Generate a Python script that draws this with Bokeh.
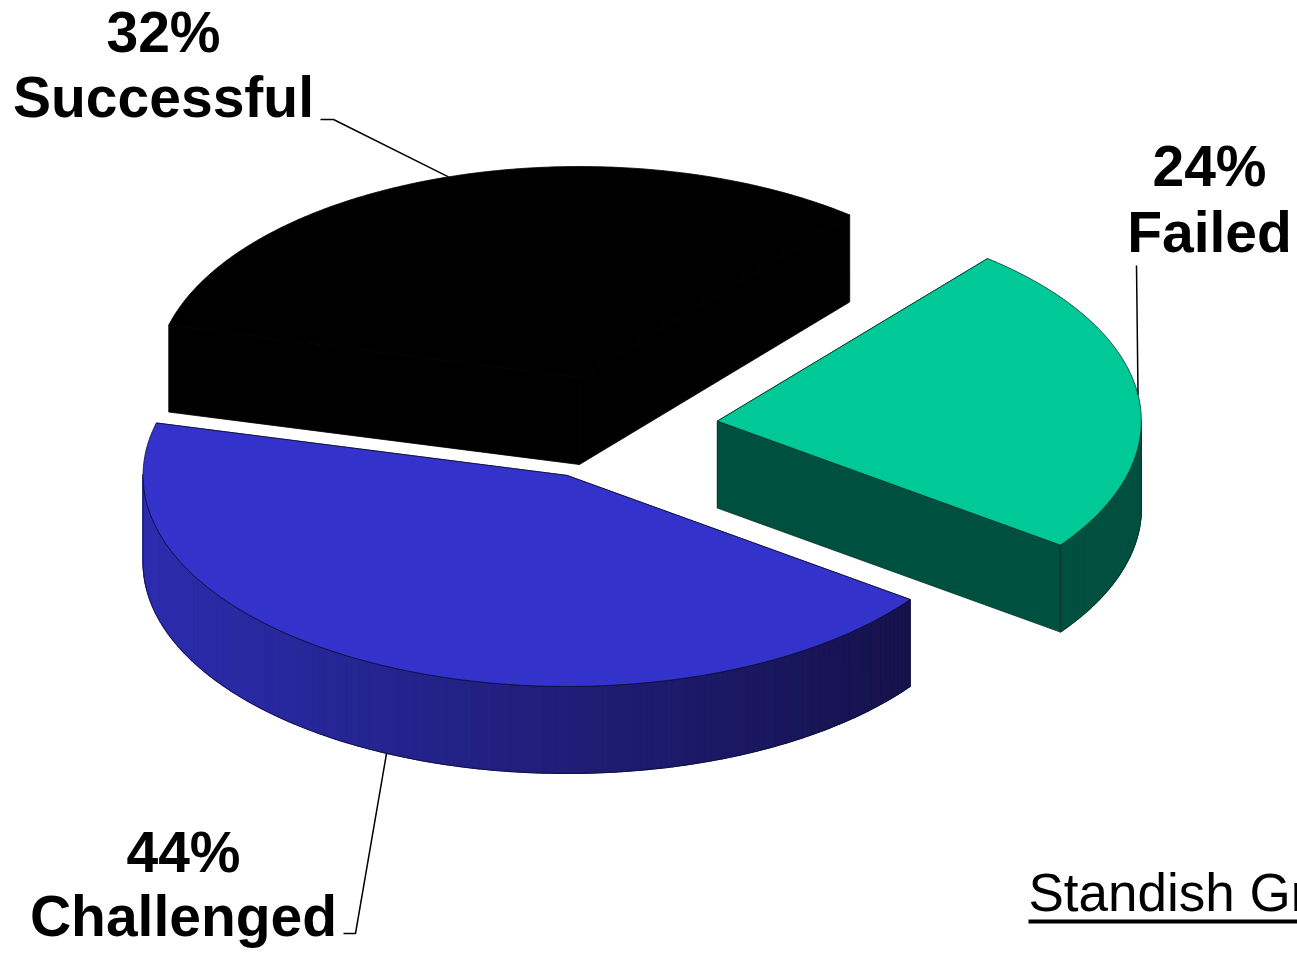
import numpy as np
from bokeh.plotting import figure
from bokeh.models import Range1d, ColumnDataSource
from bokeh.core.properties import value
from bokeh.embed import file_html
from bokeh.resources import INLINE

# ---------------- data ----------------
categories = ["Successful", "Failed", "Challenged"]
percent = [32, 24, 44]
source_note = "Standish Group"

# ---------------- style ----------------
top_colors = ["#000000", "#00c896", "#3333cc"]
side_left = ["#000000", "#005040", "#2c2cae"]
side_right = ["#000000", "#005040", "#15124c"]
edge_colors = [None, "#00342a", "#0e0e3a"]

CX, CY = 611.7, 427.2          # pie centre (screen px)
A, B, H = 424.0, 211.0, 87.0   # ellipse semi-axes and thickness
EXPLODE = 0.25
START = 165.6                  # degrees, slices go clockwise

label_x = [163, 1209, 183]
pct_base = [54, 188, 874]
name_base = [119, 254, 938]
leader_tail = [[(333, 119), (320, 119)], [(1136, 265)], [(355, 933), (343, 933)]]
FONT = "Liberation Sans"
LBL_SIZE = 57
NOTE_SIZE = 53
BASE_SHIFT = 0.4   # text anchor correction (fraction of font size)

W, HGT = 1297, 953
p = figure(width=W, height=HGT, x_range=Range1d(0, W), y_range=Range1d(HGT, 0),
           output_backend="svg", toolbar_location=None, min_border=0,
           x_axis_location=None, y_axis_location=None)
p.grid.visible = False
p.outline_line_color = None
p.background_fill_color = "white"
p.border_fill_color = "white"


def pt(cx, cy, th, dz=0.0):
    r = np.radians(th)
    return cx + A * np.cos(r), cy - B * np.sin(r) + dz


def hex2rgb(h):
    h = h.lstrip("#")
    return np.array([int(h[i:i + 2], 16) for i in (0, 2, 4)], dtype=float)


def rgb2hex(c):
    return "#%02x%02x%02x" % tuple(int(round(v)) for v in c)


cum = 0.0
anchors = []
for i, v in enumerate(percent):
    t0 = START - 3.6 * cum
    t1 = t0 - 3.6 * v
    cum += v
    mid = (t0 + t1) / 2
    rm = np.radians(mid)
    cx = CX + EXPLODE * A * np.cos(rm)
    cy = CY - EXPLODE * B * np.sin(rm)

    faces_back, faces_front = [], []
    for t, nrm in ((t0, t0 + 90), (t1, t1 - 90)):
        xa, ya = pt(cx, cy, t)
        face = ([cx, xa, xa, cx], [cy, ya, ya + H, cy + H])
        if np.sin(np.radians(nrm)) < 0:
            faces_front.append(face)
        else:
            faces_back.append(face)

    ec = edge_colors[i]
    lc = ec if ec else top_colors[i]
    for xs, ys in faces_back:
        p.patch(xs, ys, fill_color=side_left[i], line_color=lc, line_width=0.8)

    # visible front rim, drawn as thin strips to give a horizontal gradient
    angs = np.linspace(t1, t0, 181)
    cl, cr = hex2rgb(side_left[i]), hex2rgb(side_right[i])
    vis = []
    sx, sy, sc = [], [], []
    for k in range(len(angs) - 1):
        am = (angs[k] + angs[k + 1]) / 2
        if np.sin(np.radians(am)) >= 0:
            continue
        vis.append(k)
        xa, ya = pt(cx, cy, angs[k])
        xb, yb = pt(cx, cy, angs[k + 1])
        sx.append([xa, xb, xb, xa])
        sy.append([ya, yb, yb + H, ya + H])
        sc.append((xa + xb) / 2)
    if vis:
        xmn, xmx = min(sc), max(sc)
        cols = [rgb2hex(cl + (cr - cl) * ((x - xmn) / (xmx - xmn) if xmx > xmn else 0)) for x in sc]
        src = ColumnDataSource(dict(xs=sx, ys=sy, c=cols))
        p.patches("xs", "ys", source=src, fill_color="c", line_color="c", line_width=1.2)
        ra, rb = angs[vis[0]], angs[vis[-1] + 1]
        arc = np.linspace(ra, rb, 100)
        ox, oy = pt(cx, cy, arc)
        oxx = list(ox) + list(ox[::-1]) + [ox[0]]
        oyy = list(oy) + list((oy + H)[::-1]) + [oy[0]]
        if ec:
            p.line(oxx, oyy, line_color=ec, line_width=0.8)

    for xs, ys in faces_front:
        p.patch(xs, ys, fill_color=side_left[i] if i != 2 else side_right[i],
                line_color=lc, line_width=0.8)

    arc = np.linspace(t0, t1, 200)
    ax, ay = pt(cx, cy, arc)
    p.patch([cx] + list(ax), [cy] + list(ay), fill_color=top_colors[i],
            line_color=lc, line_width=0.8)

    if np.sin(rm) > 0:
        anchors.append(pt(cx, cy, mid))
    else:
        anchors.append(pt(cx, cy, mid, H))

# leader lines
for i in range(len(categories)):
    pts = [anchors[i]] + leader_tail[i]
    p.line([q[0] for q in pts], [q[1] for q in pts], line_color="black", line_width=1.5)

# labels
sh = BASE_SHIFT * LBL_SIZE
p.text(x=label_x, y=[b - sh for b in pct_base], text=[f"{v}%" for v in percent],
       text_font=value(FONT), text_font_style="bold", text_font_size=f"{LBL_SIZE}px",
       text_align="center", text_baseline="alphabetic", text_color="black")
p.text(x=label_x, y=[b - sh for b in name_base], text=categories,
       text_font=value(FONT), text_font_style="bold", text_font_size=f"{LBL_SIZE}px",
       text_align="center", text_baseline="alphabetic", text_color="black")

# source note (underlined)
p.text(x=[1028], y=[913 - BASE_SHIFT * NOTE_SIZE], text=[source_note], text_font=value(FONT),
       text_font_size=f"{NOTE_SIZE}px", text_align="left", text_baseline="alphabetic",
       text_color="black")
p.segment(x0=[1028], y0=[921], x1=[1400], y1=[921], line_color="black", line_width=4)

open("out.html", "w").write(file_html(p, INLINE))
